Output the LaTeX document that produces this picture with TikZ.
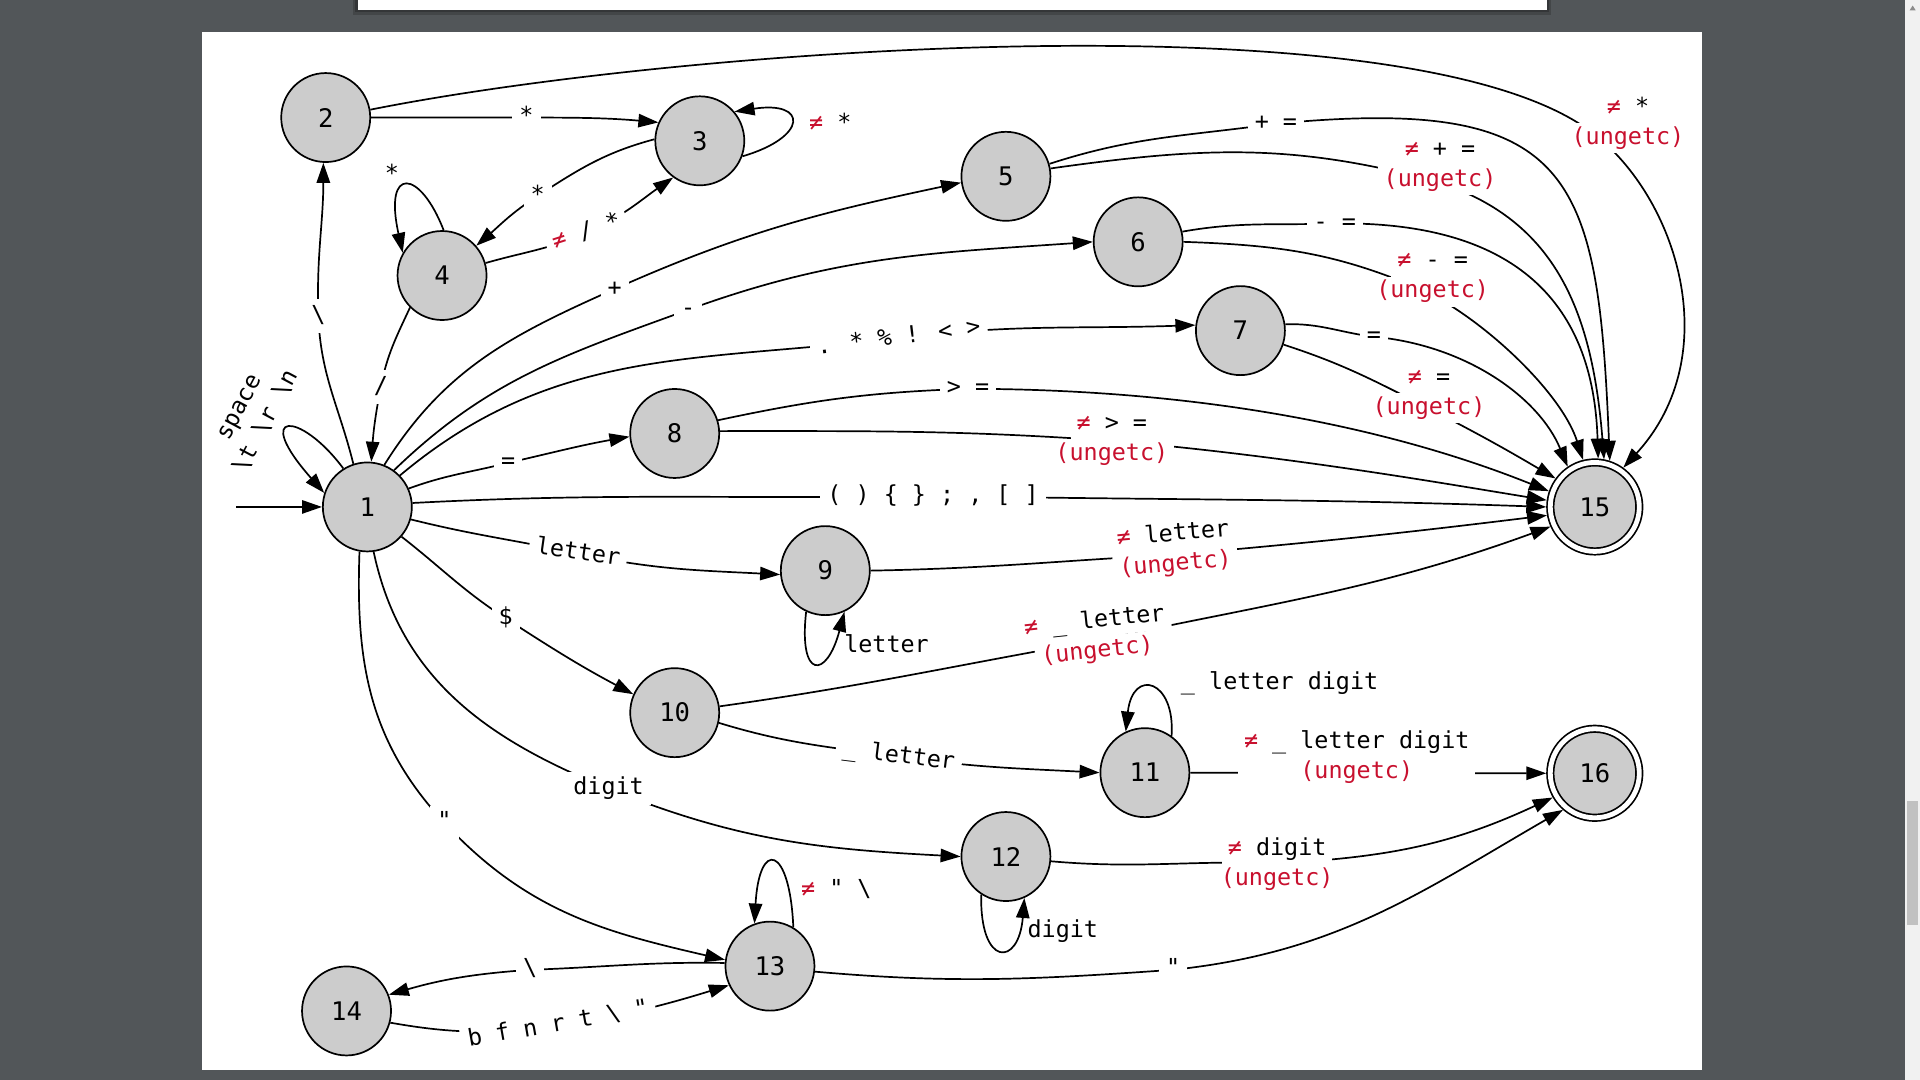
\documentclass[tikz,border=0pt]{standalone}
\usepackage{fontspec}
\usetikzlibrary{arrows.meta}
\newfontfamily\monofam{DejaVu Sans Mono}
\newcommand{\lblfont}{\monofam\fontsize{11.7}{15}\selectfont}
\newcommand{\statefont}{\monofam\fontsize{12.8}{14}\selectfont}
\definecolor{viewerbg}{RGB}{82,86,89}
\definecolor{statefill}{RGB}{204,204,204}
\definecolor{ungred}{RGB}{200,16,46}
\definecolor{trackgray}{RGB}{241,241,241}
\definecolor{thumbgray}{RGB}{193,193,193}
\newcommand{\nq}{\textcolor{ungred}{≠}}
\newcommand{\ungc}{\textcolor{ungred}{(ungetc)}}
\newcommand{\bksl}{\textbackslash}
% two stacked, white-backed label lines (optionally rotated)
\newcommand{\duo}[5]{%
  \begin{scope}[shift={(#2)},rotate=#3,transform shape]
    \node[duolbl] (#1a) at (0,-12.25) {#4};
    \node[duolbl] (#1b) at (0,12.25) {#5};
  \end{scope}}
\begin{document}
\begin{tikzpicture}[x=0.612245pt,y=-0.612245pt,line width=0.85pt,
  state/.style={circle,draw,fill=statefill,minimum size=44.5pt,inner sep=0pt,font=\statefont},
  accept/.style={state,double,double distance=2.4pt,outer sep=2pt},
  arr/.style={-{Triangle[length=10pt,width=6.7pt]}},
  lbl/.style={fill=white,inner xsep=3.5pt,inner ysep=2.5pt,font=\lblfont,text height=8.9pt,text depth=2.8pt},
  duolbl/.style={fill=white,inner xsep=3pt,inner ysep=1.7pt,font=\lblfont,text height=8.9pt,text depth=2.8pt},
  lblml/.style={fill=white,inner xsep=3pt,inner ysep=1pt,font=\lblfont,align=center},
  freelbl/.style={inner sep=1pt,font=\lblfont,text height=8.9pt,text depth=2.8pt}]
\useasboundingbox (0,0) rectangle (1568,882);
% viewer background, pages and scrollbar
\fill[viewerbg] (0,0) rectangle (1568,882);
\fill[black,opacity=.18] (288,0) rectangle (1267,12.5);
\fill[black,opacity=.22] (290,0) rectangle (1265,10);
\fill[white] (292,0) rectangle (1263,8.2);
\fill[white] (165,26) rectangle (1390,874);
\fill[trackgray] (1555.7,0) rectangle (1568,882);
\fill[thumbgray] (1557.4,654) rectangle (1566.4,755.4);
\fill[black!45] (1559.5,8.5) -- (1564.5,8.5) -- (1562,4.5) -- cycle;

% states
\node[state] (n1) at (300,414) {1};
\node[state] (n2) at (266,96) {2};
\node[state] (n3) at (571.5,115) {3};
\node[state] (n4) at (361,225) {4};
\node[state] (n5) at (821.5,144) {5};
\node[state] (n6) at (929.5,197.5) {6};
\node[state] (n7) at (1013,270) {7};
\node[state] (n8) at (551,354) {8};
\node[state] (n9) at (674,466) {9};
\node[state] (n10) at (551,582) {10};
\node[state] (n11) at (935,631) {11};
\node[state] (n12) at (821.5,699.5) {12};
\node[state] (n13) at (628.8,789) {13};
\node[state] (n14) at (283,825.6) {14};
\node[accept] (n15) at (1302.4,414) {15};
\node[accept] (n16) at (1302.4,631.5) {16};

% label positions on the transitions
\coordinate (a12) at (260,258);
\coordinate (a41) at (311,316);
\coordinate (a23) at (430,96);
\coordinate (a2f) at (1300,108);
\coordinate (a34) at (439,160);
\coordinate (a43) at (479,190);
\coordinate (a15) at (502,236);
\coordinate (a16) at (562,253);
\coordinate (a17) at (734,276);
\coordinate (a18) at (415,378);
\coordinate (a1f) at (762,405);
\coordinate (a19) at (472,452);
\coordinate (a110) at (413,505);
\coordinate (a112) at (497,644);
\coordinate (a113) at (363,672);
\coordinate (a5f) at (1042,101);
\coordinate (a5g) at (1172,148);
\coordinate (a6f) at (1090,182.5);
\coordinate (a6g) at (1160,236);
\coordinate (a7f) at (1122,275);
\coordinate (a7g) at (1160,330);
\coordinate (a8f) at (790.5,317.5);
\coordinate (a8g) at (908,360);
\coordinate (a9f) at (959,453);
\coordinate (a10f) at (896,523);
\coordinate (a1011) at (734,618);
\coordinate (a12g) at (1043,705);
\coordinate (a1314) at (433,792);
\coordinate (a1413) at (456,837);
\coordinate (a13g) at (958,792);

% entry
\coordinate (s0) at (193,414);
\draw[arr] (s0) -- (n1.west);

% transitions out of 1
\draw[arr] (n1.122) .. controls (245,335) and (205,335) .. (n1.162);
\draw[arr] (n1.108) to[out=104,in=-88] (a12) to[out=92,in=-90] (n2.267);
\draw[arr] (n1.68) to[out=58,in=204] (a15) to[out=24,in=192] (n5.188);
\draw[arr] (n1.54) to[out=44,in=200] (a16) to[out=20,in=184] (n6.180);
\draw[arr] (n1.44) to[out=40,in=187] (a17) to[out=7,in=182] (n7.173);
\draw[arr] (n1.24) to[out=20,in=194] (a18) to[out=13,in=190] (n8.184);
\draw[arr] (n1.5) to[out=3,in=181] (a1f) to[out=-1,in=178] (n15.180);
\draw[arr] (n1.-16) to[out=-14,in=168] (a19) to[out=-12,in=177] (n9.185);
\draw[arr] (n1.-41) to[out=-38,in=147] (a110) to[out=-33,in=152] (n10.156);
\draw[arr] (n1.-82) to[out=-78,in=158] (a112) to[out=-22,in=177] (n12.180);
\draw[arr] (n1.-100) to[out=-92,in=133] (a113) to[out=-47,in=167] (n13.172);

% 2
\draw[arr] (n2.0) to[out=0,in=180] (a23) to[out=0,in=175] (n3.156);
\draw[arr] (n2.10) .. controls (550,40) and (1150,-5) .. (a2f) .. controls (1370,161) and (1410,290) .. (n15.54);
% 3
\draw[arr] (n3.-20) .. controls (660,112) and (660,82) .. (n3.40);
\draw[arr] (n3.178) to[out=195,in=33] (a34) to[out=213,in=41] (n4.41);
% 4
\draw[arr] (n4.88) .. controls (343,138) and (313,135) .. (n4.150);
\draw[arr] (n4.16) to[out=16,in=204] (a43) to[out=24,in=215] (n3.234);
\draw[arr] (n4.225) to[out=245,in=79] (a41) to[out=259,in=86] (n1.85);
% 5
\draw[arr] (n5.16) to[out=18,in=188] (a5f) .. controls (1285,78) and (1305,140) .. (n15.72);
\draw[arr] (n5.10) to[out=8,in=165] (a5g) .. controls (1268,178) and (1300,250) .. (n15.79);
% 6
\draw[arr] (n6.13) to[out=10,in=182] (a6f) .. controls (1265,180) and (1302,275) .. (n15.86);
\draw[arr] (n6.0) to[out=-2,in=157] (a6g) .. controls (1210,259) and (1275,320) .. (n15.104);
% 7
\draw[arr] (n7.8) to[out=2,in=173] (a7f) .. controls (1198,282) and (1257,325) .. (n15.124);
\draw[arr] (n7.-18) to[out=-18,in=153] (a7g) .. controls (1215,358) and (1240,373) .. (n15.144);
% 8
\draw[arr] (n8.17) to[out=12,in=182] (a8f) .. controls (1000,318) and (1150,355) .. (n15.161);
\draw[arr] (n8.3) to[out=0,in=176] (a8g) .. controls (1050,372) and (1180,395) .. (n15.172);
% 9
\draw[arr] (n9.245) .. controls (652,555) and (675,555) .. (n9.-65);
\draw[arr] (n9.0) to[out=1,in=183] (a9f) to[out=5,in=187] (n15.190);
% 10
\draw[arr] (n10.8) to[out=8,in=190] (a10f) to[out=12,in=200] (n15.204);
\draw[arr] (n10.-13) to[out=-17,in=172] (a1011) to[out=-8,in=177] (n11.180);
% 11
\draw[arr] (n11.54) .. controls (960,555) and (925,545) .. (n11.115);
\draw[arr] (n11.0) -- (n16.180);
% 12
\draw[arr] (n12.237) .. controls (800,790) and (832,790) .. (n12.-66);
\draw[arr] (n12.-6) to[out=-5,in=178] (a12g) to[out=3,in=205] (n16.210);
% 13
\draw[arr] (n13.59) .. controls (645,690) and (620,685) .. (n13.110);
\draw[arr] (n13.176) to[out=179,in=2] (a1314) to[out=184,in=16] (n14.21);
\draw[arr] (n13.-7) to[out=-5,in=184] (a13g) to[out=6,in=210] (n16.229);
% 14
\draw[arr] (n14.-15) to[out=-10,in=188] (a1413) to[out=8,in=197] (n13.205);

% labels on transitions
\node[lbl] (t12) at (a12) {\bksl};
\node[lbl] (t41) at (a41) {/};
\node[lbl] (t23) at (a23) {*};
\duo{t2f}{1329.5,100.5}{0}{\nq{} *}{\ungc}
\node[lbl] (t34) at (a34) {*};
\node[lbl,rotate=18] (t43) at (a43) {\nq{} / *};
\node[lbl] (t15) at (a15) {+};
\node[lbl] (t16) at (a16) {-};
\node[lbl,rotate=7] (t17) at (a17) {. * \% ! < >};
\node[lbl] (t18) at (a18) {=};
\node[lbl] (t1f) at (a1f) {( ) \{ \} ; , [ ]};
\node[lbl,rotate=-8] (t19) at (a19) {letter};
\node[lbl] (t110) at (a110) {\$};
\node[lbl] (t112) at (a112) {digit};
\node[lbl] (t113) at (a113) {"};
\node[lbl] (t5f) at (a5f) {+ =};
\duo{t5g}{1176,135}{0}{\nq{} + =}{\ungc}
\node[lbl] (t6f) at (a6f) {- =};
\duo{t6g}{1170,226}{0}{\nq{} - =}{\ungc}
\node[lbl] (t7f) at (a7f) {=};
\duo{t7g}{1167,321}{0}{\nq{} =}{\ungc}
\node[lbl] (t8f) at (a8f) {> =};
\duo{t8g}{908,358.5}{0}{\nq{} > =}{\ungc}
\duo{t9f}{959,449}{5}{\nq{} letter}{\ungc}
\duo{t10f}{895,520}{6}{\nq{} \_ letter}{\ungc}
\node[lbl,rotate=-7] (t1011) at (a1011) {\_ letter};
\node[lblml] (t11g) at (1108,618) {\nq{} \_ letter digit\\\ungc};
\duo{t12g}{1043,706}{0}{\nq{} digit}{\ungc}
\node[lbl] (t1314) at (a1314) {\bksl};
\node[lbl,rotate=10] (t1413) at (a1413) {b f n r t \bksl{} "};
\node[lbl] (t13g) at (a13g) {"};

% labels of the self-loops
\node[inner sep=1pt,font=\lblfont,rotate=62,align=center] (t1l) at (207,339) {space\\\bksl t \bksl r \bksl n};
\node[freelbl] (t4l) at (320,143) {*};
\node[freelbl] (t3l) at (678,102) {\nq{} *};
\node[freelbl] (t9l) at (724,528) {letter};
\node[freelbl] (t11l) at (1045,558) {\_ letter digit};
\node[freelbl] (t12l) at (868,761) {digit};
\node[freelbl] (t13l) at (683,727) {\nq{} " \bksl};
\end{tikzpicture}
\end{document}
